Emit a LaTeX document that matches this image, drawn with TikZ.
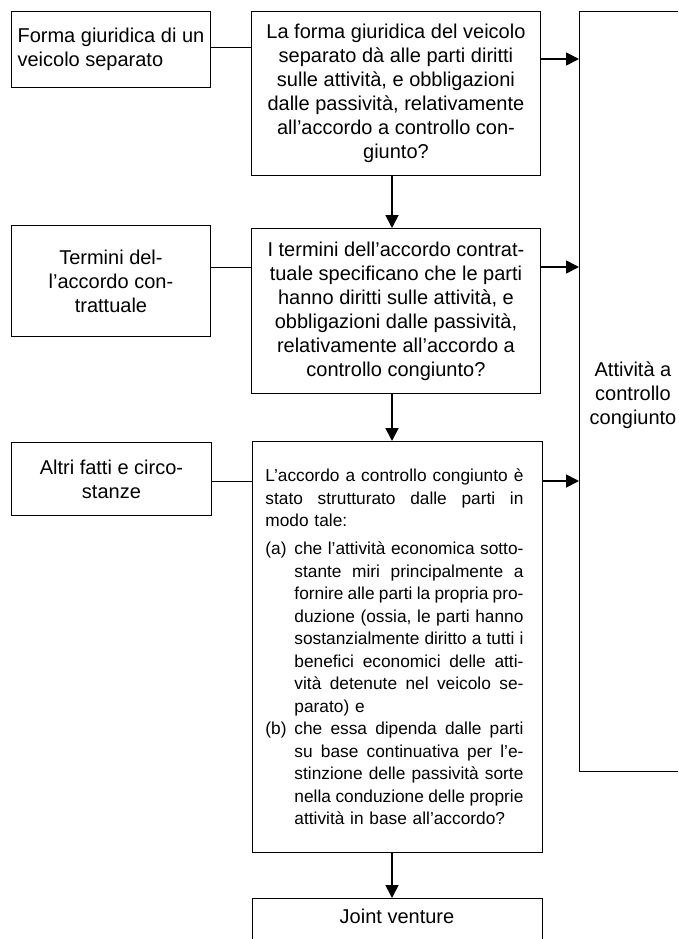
\documentclass[tikz,border=0pt]{standalone}
\usepackage{fontspec}
\setmainfont{Liberation Sans}
\usetikzlibrary{arrows.meta}
\newcommand\fbig{\fontsize{20}{24}\selectfont}
\newcommand\fsmall{\fontsize{17.3}{22.5}\selectfont}
\newcommand\jline[1]{\makebox[258pt][s]{\spaceskip=0pt\xspaceskip=0pt\relax #1}}
\newcommand\jitem[2]{\makebox[29pt][l]{#1}\makebox[229pt][s]{\spaceskip=0pt\xspaceskip=0pt\relax #2}}
\newcommand\jind[1]{\hspace*{29pt}\makebox[229pt][s]{\spaceskip=0pt\xspaceskip=0pt\relax #1}}
\newcommand\jlast[1]{\hspace*{29pt}#1}
\begin{document}
\begin{tikzpicture}[x=1pt,y=-1pt,
  box/.style={draw=black, line width=0.9pt, anchor=north west, inner sep=0pt, align=center, font=\fbig},
  conn/.style={draw=black, line width=0.9pt},
  arr/.style={draw=black, line width=1.8pt, -{Triangle[length=13pt,width=13pt]}},
]
\useasboundingbox (0,0) rectangle (678,939);
\clip (0,0) rectangle (678,939);
\fill[white] (0,0) rectangle (678,939);

% left column
\node[box, align=left, minimum width=199pt, minimum height=76pt] (l1) at (11,11)
  {Forma giuridica di un\\veicolo separato};
\node[box, minimum width=199pt, minimum height=111pt] (l2) at (11,225)
  {Termini del-\\l’accordo con-\\trattuale};
\node[box, minimum width=200pt, minimum height=73pt] (l3) at (11,442)
  {Altri fatti e circo-\\stanze};

% middle column
\node[box, minimum width=289pt, minimum height=164pt] (m1) at (251,11)
  {La forma giuridica del veicolo\\separato dà alle parti diritti\\sulle attività, e obbligazioni\\dalle passività, relativamente\\all’accordo a controllo con-\\giunto?};
\node[box, minimum width=289pt, minimum height=165pt] (m2) at (251,228)
  {I termini dell’accordo contrat-\\tuale specificano che le parti\\hanno diritti sulle attività, e\\obbligazioni dalle passività,\\relativamente all’accordo a\\controllo congiunto?};
\node[box, align=left, font=\fsmall, text width=264pt, minimum width=290pt, minimum height=411pt] (m3) at (252,441)
  {\jline{L’accordo a controllo congiunto è}\\
   \jline{stato strutturato dalle parti in}\\
   modo tale:\\[5.5pt]
   \jitem{(a)}{che l’attività economica sotto-}\\
   \jind{stante miri principalmente a}\\
   \jind{fornire alle parti la propria pro-}\\
   \jind{duzione (ossia, le parti hanno}\\
   \jind{sostanzialmente diritto a tutti i}\\
   \jind{benefici economici delle atti-}\\
   \jind{vità detenute nel veicolo se-}\\
   \jlast{parato) e}\\
   \jitem{(b)}{che essa dipenda dalle parti}\\
   \jind{su base continuativa per l’e-}\\
   \jind{stinzione delle passività sorte}\\
   \jind{nella conduzione delle proprie}\\
   \jlast{attività in base all’accordo?}};
\node[box, anchor=north, minimum width=290pt, inner ysep=11pt, text height=14pt, text depth=40pt] (jv) at (397,898)
  {Joint venture};

% right column
\node[box, minimum width=110pt, minimum height=760pt] (r) at (579,11) {};
\node[font=\fbig, align=center, inner sep=0pt] (rt) at (633,395)
  {Attività a\\controllo\\congiunto};

% connectors
\coordinate (v) at (392,0);
\coordinate (h1) at (0,47);
\coordinate (a1) at (0,59);
\coordinate (h2) at (0,267);
\coordinate (h3) at (0,481);

\draw[conn] (l1.east |- h1) -- (m1.west |- h1);
\draw[arr] (m1.east |- a1) -- (r.west |- a1);
\draw[arr] (m1.south -| v) -- (m2.north -| v);
\draw[conn] (l2.east |- h2) -- (m2.west |- h2);
\draw[arr] (m2.east |- h2) -- (r.west |- h2);
\draw[arr] (m2.south -| v) -- (m3.north -| v);
\draw[conn] (l3.east |- h3) -- (m3.west |- h3);
\draw[arr] (m3.east |- h3) -- (r.west |- h3);
\draw[arr] (m3.south -| v) -- (jv.north -| v);
\end{tikzpicture}
\end{document}
